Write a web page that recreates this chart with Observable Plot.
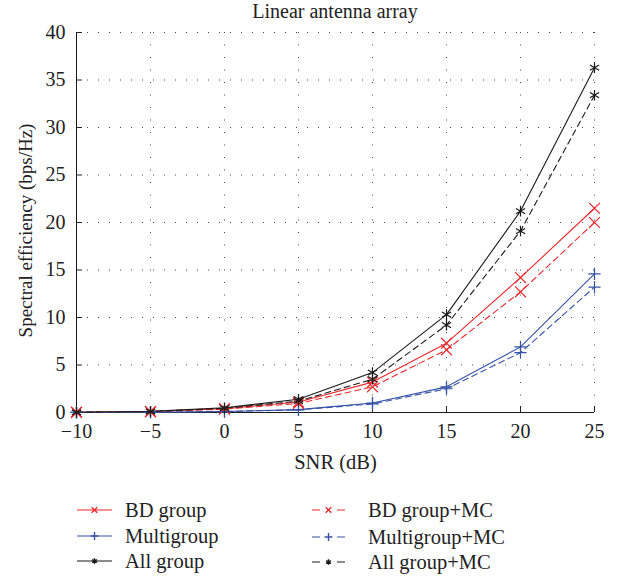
<!DOCTYPE html>
<html><head><meta charset="utf-8">
<script src="https://cdn.jsdelivr.net/npm/d3@7"></script>
<script src="https://cdn.jsdelivr.net/npm/@observablehq/plot@0.6"></script>
<style>
body{margin:0;background:#fff;}
#wrap{position:relative;width:618px;height:578px;font-family:"Liberation Serif","DejaVu Serif",serif;color:#222;}
#wrap > svg{position:absolute;left:0;top:0;}
#title{position:absolute;left:76px;width:518px;top:1px;text-align:center;font-size:20px;line-height:20px;}
.leg{position:absolute;display:flex;align-items:center;font-size:20.5px;height:24px;line-height:24px;white-space:nowrap;}
</style></head><body><div id="wrap"><div id="title">Linear antenna array</div></div>
<script>
// SNR sweep (dB)
const snr = [-10, -5, 0, 5, 10, 15, 20, 25];
// Spectral efficiency (bps/Hz) per scheme
const bdGroup      = [0.02, 0.10, 0.40, 1.10, 3.2, 7.3, 14.2, 21.5];
const bdGroupMC    = [0.02, 0.09, 0.35, 0.95, 2.7, 6.6, 12.7, 20.0];
const multigroup   = [0.01, 0.03, 0.10, 0.30, 1.0, 2.7,  6.9, 14.6];
const multigroupMC = [0.01, 0.03, 0.10, 0.28, 0.9, 2.5,  6.3, 13.2];
const allGroup     = [0.02, 0.12, 0.50, 1.40, 4.2, 10.3, 21.2, 36.3];
const allGroupMC   = [0.02, 0.10, 0.45, 1.20, 3.5, 9.2, 19.1, 33.4];
// Axis ticks
const xTicks = [-10, -5, 0, 5, 10, 15, 20, 25];
const yTicks = [0, 5, 10, 15, 20, 25, 30, 35, 40];

const red = "#e8282c", blue = "#3553a6", black = "#1a1a1a";
const dash = "6,4";
const series = [
  {name: "BD group", values: bdGroup, color: red, dash: null, symbol: "times", r: 5},
  {name: "Multigroup", values: multigroup, color: blue, dash: null, symbol: "plus", r: 4},
  {name: "All group", values: allGroup, color: black, dash: null, symbol: "asterisk", r: 5},
  {name: "BD group+MC", values: bdGroupMC, color: red, dash: dash, symbol: "times", r: 5},
  {name: "Multigroup+MC", values: multigroupMC, color: blue, dash: dash, symbol: "plus", r: 4},
  {name: "All group+MC", values: allGroupMC, color: black, dash: dash, symbol: "asterisk", r: 5}
];
const table = s => snr.map((x, i) => ({snr: x, se: s.values[i]}));

const marks = [
  Plot.gridY(yTicks.slice(1), {stroke: "#333", strokeOpacity: 0.9, strokeDasharray: "1,10"}),
  Plot.gridX(xTicks.slice(1), {stroke: "#333", strokeOpacity: 0.9, strokeDasharray: "1,11.5"}),
  Plot.ruleX([xTicks[0]], {stroke: black}),
  Plot.ruleY([yTicks[0]], {stroke: black}),
  // inward tick marks
  Plot.axisX(xTicks, {tickSize: -6, tickFormat: () => "", label: null}),
  Plot.axisY(yTicks, {tickSize: -6, tickFormat: () => "", label: null}),
  // tick labels
  Plot.axisX(xTicks, {tickSize: 0, tickPadding: 11, fontSize: 20, label: null}),
  Plot.axisY(yTicks, {tickSize: 0, tickPadding: 11, fontSize: 20, label: null}),
  // axis titles
  Plot.text(["SNR (dB)"], {frameAnchor: "bottom", dy: 49.5, fontSize: 20.5, lineAnchor: "middle", textAnchor: "middle", fill: "#222"}),
  Plot.text(["Spectral efficiency (bps/Hz)"], {frameAnchor: "left", rotate: -90, dx: -51, dy: 8, fontSize: 19, lineAnchor: "middle", textAnchor: "middle", fill: "#222"})
];
for (const s of series) {
  marks.push(Plot.line(table(s), {x: "snr", y: "se", stroke: s.color, strokeWidth: 1.1, strokeDasharray: s.dash}));
  marks.push(Plot.dot(table(s), {x: "snr", y: "se", stroke: s.color, fill: "none", symbol: s.symbol, r: s.r, strokeWidth: 1.2}));
}

const chart = Plot.plot({
  width: 618, height: 478,
  marginTop: 32, marginBottom: 66, marginLeft: 76, marginRight: 24,
  style: {fontFamily: '"Liberation Serif","DejaVu Serif",serif', fontSize: "20px", color: "#222", background: "transparent", overflow: "visible"},
  x: {domain: [-10, 25]},
  y: {domain: [0, 40]},
  marks
});
document.getElementById("wrap").appendChild(chart);

// Legend below the plot, two columns
const symbolMap = {times: d3.symbolTimes, plus: d3.symbolPlus, asterisk: d3.symbolAsterisk};
const legPos = [[77, 498, 13], [77, 524, 13], [77, 549, 13], [312, 498, 23], [312, 525, 23], [312, 550, 23]];
series.forEach((s, i) => {
  const [left, top, gap] = legPos[i];
  const div = document.createElement("div");
  div.className = "leg";
  div.style.left = left + "px";
  div.style.top = top + "px";
  const w = s.dash ? 33 : 35;
  const svg = d3.create("svg").attr("width", w).attr("height", 12).style("margin-right", gap + "px");
  svg.append("line").attr("x1", 0).attr("x2", w).attr("y1", 6).attr("y2", 6)
    .attr("stroke", s.color).attr("stroke-width", 1.2).attr("stroke-dasharray", s.dash ? "8,17" : null);
  svg.append("path").attr("transform", `translate(${w / 2},6)`)
    .attr("d", d3.symbol(symbolMap[s.symbol], 22)()).attr("stroke", s.color).attr("fill", "none").attr("stroke-width", 1.4);
  div.appendChild(svg.node());
  div.appendChild(document.createTextNode(s.name));
  document.getElementById("wrap").appendChild(div);
});
</script></body></html>
